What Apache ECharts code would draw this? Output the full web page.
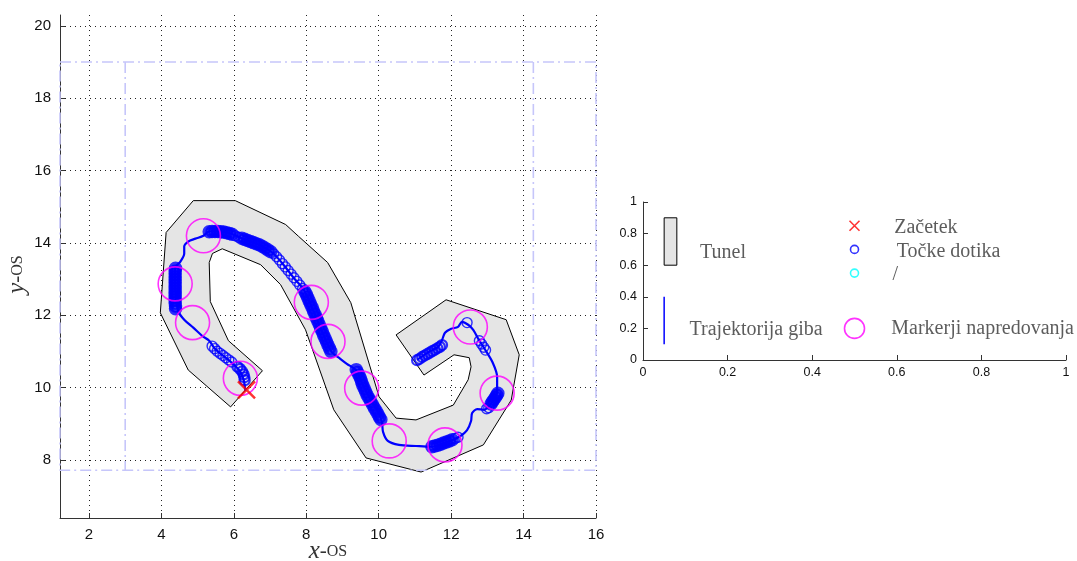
<!DOCTYPE html>
<html>
<head>
<meta charset="utf-8">
<script src="https://cdn.jsdelivr.net/npm/echarts@6/dist/echarts.min.js"></script>
<style>
  html, body { margin: 0; padding: 0; background: #fff; }
  #chart { width: 1077px; height: 561px; }
</style>
</head>
<body>
<div id="chart"></div>
<script>
// Tick values of the main plot and of the legend panel
const xTicks = [2, 4, 6, 8, 10, 12, 14, 16];
const yTicks = [8, 10, 12, 14, 16, 18, 20];
const legendTicks = [0, 0.2, 0.4, 0.6, 0.8, 1];

// Tunnel outline (x, y), clockwise
const tunnel = [
  [4.88, 15.17], [6.04, 15.17], [7.43, 14.51], [7.79, 14.18], [8.59, 13.46],
  [9.23, 12.35], [10.01, 9.75], [10.48, 9.16], [11.03, 9.11], [12.06, 9.52],
  [12.47, 10.22], [12.55, 10.58], [12.50, 10.83], [12.08, 10.91], [11.25, 10.35],
  [10.48, 11.46], [11.86, 12.43], [13.52, 11.88], [13.88, 10.91], [13.66, 9.66],
  [12.89, 8.42], [11.17, 7.67], [9.65, 8.06], [8.76, 9.39], [7.98, 11.60],
  [7.29, 12.85], [6.74, 13.40], [5.68, 13.84], [5.41, 13.71], [5.32, 13.46],
  [5.35, 12.38], [5.85, 11.30], [6.79, 10.47], [5.91, 9.47], [4.74, 10.49],
  [3.97, 12.07], [4.13, 14.29]
];

// Workspace frame
const frameY = [7.72, 19];
const frameInnerX = [3, 14.27];

// Robot trajectory from the start point to the end
const trajectory = [
  [6.32, 9.91], [6.27, 10.22], [6.18, 10.44], [6.04, 10.60], [5.85, 10.77],
  [5.63, 10.94], [5.46, 11.10], [5.32, 11.30], [5.13, 11.43], [4.88, 11.66],
  [4.63, 11.88], [4.47, 12.10], [4.41, 12.43], [4.38, 12.85], [4.38, 13.32],
  [4.52, 13.48], [4.63, 13.71], [4.63, 13.90], [4.74, 14.04], [4.94, 14.12],
  [5.16, 14.20], [5.32, 14.32], [5.57, 14.32], [5.91, 14.26], [6.32, 14.09],
  [6.74, 13.93], [7.07, 13.73], [7.37, 13.40], [7.65, 13.04], [7.93, 12.71],
  [8.18, 12.16], [8.45, 11.52], [8.70, 10.99], [8.90, 10.83], [9.12, 10.66],
  [9.37, 10.49], [9.56, 10.08], [9.78, 9.66], [9.98, 9.33], [10.09, 9.05],
  [10.12, 8.78], [10.25, 8.53], [10.56, 8.42], [11.03, 8.39], [11.45, 8.37],
  [11.72, 8.43], [12.00, 8.54], [12.25, 8.66], [12.44, 8.83], [12.55, 9.08],
  [12.58, 9.30], [12.72, 9.41], [12.91, 9.39], [13.05, 9.50], [13.19, 9.69],
  [13.27, 9.88], [13.27, 10.30], [13.14, 10.71], [12.94, 11.05], [12.75, 11.35],
  [12.61, 11.60], [12.47, 11.74], [12.30, 11.82], [12.19, 11.68], [12.00, 11.63],
  [11.83, 11.52], [11.75, 11.32], [11.64, 11.13], [11.39, 10.99], [11.06, 10.77]
];

// Contact points where the trajectory touched the tunnel wall (closely packed runs)
const contactDense = [
  [4.39, 12.18], [4.39, 12.26], [4.38, 12.34], [4.38, 12.42], [4.38, 12.50],
  [4.38, 12.58], [4.38, 12.66], [4.38, 12.74], [4.38, 12.82], [4.38, 12.90],
  [4.38, 12.98], [4.38, 13.06], [4.38, 13.14], [4.38, 13.22], [4.39, 13.30],
  [5.32, 14.31], [5.40, 14.32], [5.48, 14.32], [5.56, 14.32], [5.64, 14.31],
  [5.72, 14.30], [5.80, 14.28], [5.88, 14.26], [5.95, 14.24],
  [6.22, 14.13], [6.30, 14.10], [6.38, 14.07], [6.46, 14.04], [6.54, 14.01],
  [6.62, 13.98], [6.70, 13.95], [6.78, 13.91], [6.86, 13.86], [6.94, 13.81],
  [7.02, 13.76],
  [7.96, 12.66], [8.00, 12.58], [8.04, 12.49], [8.08, 12.40], [8.12, 12.31],
  [8.16, 12.22], [8.20, 12.12], [8.24, 12.03], [8.28, 11.93], [8.32, 11.84],
  [8.36, 11.74], [8.40, 11.64], [8.44, 11.55], [8.48, 11.45], [8.52, 11.36],
  [8.56, 11.27], [8.60, 11.18], [8.64, 11.09], [8.68, 11.00],
  [9.38, 10.50], [9.42, 10.42], [9.46, 10.34], [9.50, 10.25], [9.53, 10.16],
  [9.56, 10.07], [9.60, 9.98], [9.64, 9.89], [9.68, 9.80], [9.73, 9.71],
  [9.78, 9.62], [9.83, 9.53], [9.88, 9.44], [9.93, 9.36], [9.98, 9.27],
  [10.02, 9.19], [10.06, 9.12],
  [11.47, 8.37], [11.55, 8.39], [11.63, 8.41], [11.71, 8.44], [11.79, 8.47],
  [11.87, 8.50], [11.95, 8.53], [12.03, 8.56],
  [13.10, 9.55], [13.14, 9.61], [13.18, 9.67], [13.22, 9.73], [13.26, 9.79],
  [13.29, 9.85]
];

// Contact points in looser runs
const contactMedium = [
  [6.10, 10.58], [6.17, 10.52], [6.23, 10.45], [6.27, 10.37], [6.29, 10.29], [6.30, 10.21],
  [11.06, 10.76], [11.13, 10.80], [11.20, 10.85], [11.27, 10.89], [11.34, 10.93],
  [11.41, 10.97], [11.48, 11.01], [11.55, 11.05], [11.62, 11.09], [11.69, 11.13],
  [11.75, 11.18]
];

// Single contact points further apart
const contactSparse = [
  [5.40, 11.15], [5.47, 11.08], [5.54, 11.01], [5.62, 10.95], [5.70, 10.89],
  [5.78, 10.83], [5.86, 10.77], [5.94, 10.71],
  [6.04, 14.20], [6.13, 14.16],
  [7.10, 13.70], [7.18, 13.62], [7.26, 13.53], [7.34, 13.43], [7.42, 13.34],
  [7.50, 13.24], [7.58, 13.14], [7.66, 13.04], [7.74, 12.94], [7.82, 12.84],
  [7.90, 12.74],
  [12.11, 8.60], [12.19, 8.63],
  [12.98, 9.42], [13.04, 9.45],
  [12.78, 11.30], [12.84, 11.21], [12.90, 11.12], [12.95, 11.04],
  [12.44, 11.80]
];

// Progress markers along the path
const progressMarkers = [
  [5.16, 14.20], [4.38, 12.87], [4.86, 11.80], [6.18, 10.26], [8.14, 12.36],
  [8.60, 11.28], [9.53, 9.99], [10.29, 8.53], [11.83, 8.42], [13.27, 9.85],
  [12.53, 11.68]
];

// Start position
const startPoint = [6.35, 9.94];

// Legend entries
const legendNames = ['Tunel', 'Trajektorija giba', 'Začetek', 'Točke dotika', '/', 'Markerji napredovanja'];

const X_MIN = 1.2, X_MAX = 16, Y_MIN = 6.4, Y_MAX = 20.3;
const BLUE = '#0000ff', MAGENTA = '#ff00ff', RED = '#ff0000', CYAN = '#00ffff';
const FRAME = { color: '#c6c6fa', width: 1.6, type: [11, 4, 2, 4] };
const GRID_DOTS = { color: '#222', width: 1, type: [1, 4] };
const SANS = 'Liberation Sans, Arial, sans-serif';
const SERIF = 'Liberation Serif, Times New Roman, serif';
const CROSS = 'path://M0,0L10,10M10,0L0,10';

const chart = echarts.init(document.getElementById('chart'), null, { renderer: 'canvas' });

const axisLine = { show: true, onZero: false, lineStyle: { color: '#333', width: 1 } };
const nameRich = {
  i: { fontFamily: SERIF, fontStyle: 'italic', fontSize: 25, color: '#333' },
  n: { fontFamily: SERIF, fontSize: 21, color: '#333' },
  s: { fontFamily: SERIF, fontSize: 16, color: '#333' }
};

const legendLayout = [
  [0.135, 0.68], [0.11, 0.19], [0.594, 0.835], [0.600, 0.685], [0.59, 0.54], [0.587, 0.20]
];

chart.setOption({
  animation: false,
  backgroundColor: '#fff',
  grid: [
    { left: 60, top: 15, width: 536, height: 503, outerBoundsMode: 'none', containLabel: false },
    { left: 643, top: 202, width: 423, height: 158, outerBoundsMode: 'none', containLabel: false }
  ],
  xAxis: [
    {
      gridIndex: 0, type: 'value', min: X_MIN, max: X_MAX,
      axisLine,
      axisTick: { show: true, inside: true, length: 5, customValues: xTicks, lineStyle: { color: '#333' } },
      axisLabel: { customValues: xTicks, color: '#111', fontFamily: SANS, fontSize: 15, margin: 9 },
      splitLine: { show: true, lineStyle: GRID_DOTS },
      name: '{i|x}{n|-}{s|OS}', nameLocation: 'middle', nameGap: 21, nameMoveOverlap: false,
      nameTextStyle: { rich: nameRich }
    },
    {
      gridIndex: 1, type: 'value', min: 0, max: 1, interval: 0.2,
      axisLine,
      axisTick: { show: true, inside: true, length: 5, lineStyle: { color: '#333' } },
      axisLabel: { color: '#111', fontFamily: SANS, fontSize: 12.5, margin: 6 },
      splitLine: { show: false }
    }
  ],
  yAxis: [
    {
      gridIndex: 0, type: 'value', min: Y_MIN, max: Y_MAX,
      axisLine,
      axisTick: { show: true, inside: true, length: 5, customValues: yTicks, lineStyle: { color: '#333' } },
      axisLabel: { customValues: yTicks, color: '#111', fontFamily: SANS, fontSize: 15, margin: 9 },
      splitLine: { show: true, lineStyle: GRID_DOTS },
      name: '{i|y}{n|-}{s|OS}', nameLocation: 'middle', nameGap: 30, nameRotate: 90, nameMoveOverlap: false,
      nameTextStyle: { rich: nameRich, padding: [0, 16, 0, 0] }
    },
    {
      gridIndex: 1, type: 'value', min: 0, max: 1, interval: 0.2,
      axisLine,
      axisTick: { show: true, inside: true, length: 5, lineStyle: { color: '#333' } },
      axisLabel: { color: '#111', fontFamily: SANS, fontSize: 12.5, margin: 6 },
      splitLine: { show: false }
    }
  ],
  series: [
    // Tunnel
    {
      type: 'custom', xAxisIndex: 0, yAxisIndex: 0, silent: true, z: 1,
      data: tunnel,
      renderItem(params, api) {
        if (params.dataIndex !== 0) return null;
        return {
          type: 'polygon',
          shape: { points: tunnel.map(p => api.coord(p)) },
          style: { fill: '#e5e5e5', stroke: '#000', lineWidth: 1 }
        };
      }
    },
    // Workspace frame
    {
      type: 'line', xAxisIndex: 0, yAxisIndex: 0, silent: true, symbol: 'none', z: 2,
      data: [[X_MIN, frameY[1]], [X_MAX, frameY[1]], [X_MAX, frameY[0]], [X_MIN, frameY[0]], [X_MIN, frameY[1]]],
      lineStyle: FRAME
    },
    {
      type: 'line', xAxisIndex: 0, yAxisIndex: 0, silent: true, symbol: 'none', z: 2,
      data: [[frameInnerX[0], frameY[1]], [frameInnerX[0], frameY[0]]],
      lineStyle: FRAME
    },
    {
      type: 'line', xAxisIndex: 0, yAxisIndex: 0, silent: true, symbol: 'none', z: 2,
      data: [[frameInnerX[1], frameY[1]], [frameInnerX[1], frameY[0]]],
      lineStyle: FRAME
    },
    // Trajectory
    {
      type: 'line', xAxisIndex: 0, yAxisIndex: 0, silent: true, symbol: 'none', z: 3,
      smooth: 0.3, data: trajectory,
      lineStyle: { color: BLUE, width: 2.2 }
    },
    // Contact points
    {
      type: 'scatter', xAxisIndex: 0, yAxisIndex: 0, silent: true, z: 4,
      symbol: 'circle', symbolSize: 9, data: contactDense,
      itemStyle: { color: 'transparent', borderColor: BLUE, borderWidth: 4.5 }
    },
    {
      type: 'scatter', xAxisIndex: 0, yAxisIndex: 0, silent: true, z: 4,
      symbol: 'circle', symbolSize: 10, data: contactMedium,
      itemStyle: { color: 'transparent', borderColor: BLUE, borderWidth: 2.2 }
    },
    {
      type: 'scatter', xAxisIndex: 0, yAxisIndex: 0, silent: true, z: 4,
      symbol: 'circle', symbolSize: 10, data: contactSparse,
      itemStyle: { color: 'transparent', borderColor: BLUE, borderWidth: 1.4 }
    },
    // Progress markers
    {
      type: 'scatter', xAxisIndex: 0, yAxisIndex: 0, silent: true, z: 5,
      symbol: 'circle', symbolSize: 34, data: progressMarkers,
      itemStyle: { color: 'transparent', borderColor: MAGENTA, borderWidth: 1.6 }
    },
    // Start
    {
      type: 'scatter', xAxisIndex: 0, yAxisIndex: 0, silent: true, z: 6,
      symbol: CROSS, symbolSize: 17, data: [startPoint],
      itemStyle: { color: 'transparent', borderColor: RED, borderWidth: 2.5 }
    },

    // Legend panel: tunnel swatch
    {
      type: 'custom', xAxisIndex: 1, yAxisIndex: 1, silent: true,
      data: [[0.05, 0.6]],
      renderItem(params, api) {
        const a = api.coord([0.05, 0.6]);
        const b = api.coord([0.08, 0.9]);
        return {
          type: 'rect',
          shape: { x: a[0], y: b[1], width: b[0] - a[0], height: a[1] - b[1] },
          style: { fill: '#e5e5e5', stroke: '#000', lineWidth: 1 }
        };
      }
    },
    // Legend panel: trajectory swatch
    {
      type: 'line', xAxisIndex: 1, yAxisIndex: 1, silent: true, symbol: 'none',
      data: [[0.05, 0.1], [0.05, 0.4]],
      lineStyle: { color: BLUE, width: 1.5 }
    },
    {
      type: 'scatter', xAxisIndex: 1, yAxisIndex: 1, silent: true,
      symbol: CROSS, symbolSize: 10, data: [[0.5, 0.85]],
      itemStyle: { color: 'transparent', borderColor: RED, borderWidth: 1.6 }
    },
    {
      type: 'scatter', xAxisIndex: 1, yAxisIndex: 1, silent: true,
      symbol: 'circle', symbolSize: 8, data: [[0.5, 0.7]],
      itemStyle: { color: 'transparent', borderColor: BLUE, borderWidth: 1.6 }
    },
    {
      type: 'scatter', xAxisIndex: 1, yAxisIndex: 1, silent: true,
      symbol: 'circle', symbolSize: 8, data: [[0.5, 0.55]],
      itemStyle: { color: 'transparent', borderColor: CYAN, borderWidth: 1.6 }
    },
    {
      type: 'scatter', xAxisIndex: 1, yAxisIndex: 1, silent: true,
      symbol: 'circle', symbolSize: 20, data: [[0.5, 0.2]],
      itemStyle: { color: 'transparent', borderColor: MAGENTA, borderWidth: 1.6 }
    },
    // Legend panel: labels
    {
      type: 'scatter', xAxisIndex: 1, yAxisIndex: 1, silent: true, symbolSize: 0,
      data: legendNames.map((name, i) => ({ name, value: legendLayout[i] })),
      label: {
        show: true, position: 'right', distance: 0, formatter: '{b}',
        fontFamily: SERIF, fontSize: 20, color: '#333'
      }
    }
  ]
});
</script>
</body>
</html>
